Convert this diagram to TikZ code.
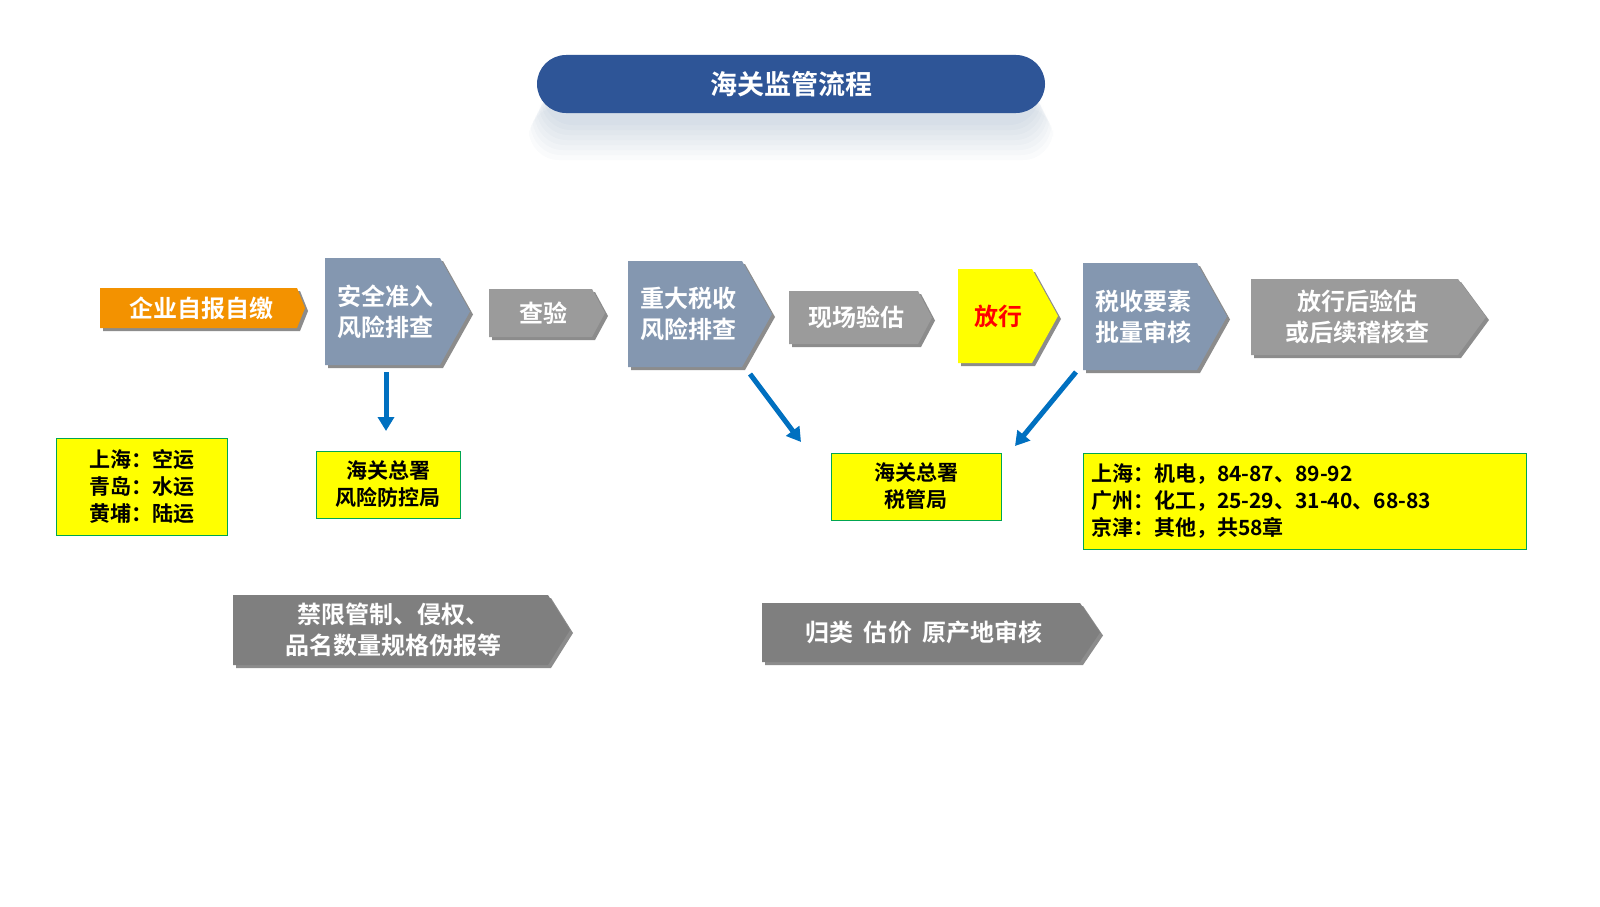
\documentclass[tikz,border=0pt]{standalone}
\usepackage{fontspec}
\setmainfont{Noto Sans CJK SC}[BoldFont={Noto Sans CJK SC Bold}]
\usetikzlibrary{arrows.meta}
\definecolor{ttl}{HTML}{2E5597}
\definecolor{org}{HTML}{F39200}
\definecolor{bg}{HTML}{8497B0}
\definecolor{gr}{HTML}{9B9B9B}
\definecolor{dg}{HTML}{7F7F7F}
\definecolor{yl}{HTML}{FFFF00}
\definecolor{gn}{HTML}{00A651}
\definecolor{bl}{HTML}{0070C0}
\newcommand\pent[9]{% name x1 y1 x2 y2 tip fill style text
  \fill[black!45] (#2+3,#3+3) -- (#6+3,#3+3) -- (#4+3,#3/2+#5/2+3) -- (#6+3,#5+3) -- (#2+3,#5+3) -- cycle;
  \fill[#7] (#2,#3) -- (#6,#3) -- (#4,#3/2+#5/2) -- (#6,#5) -- (#2,#5) -- cycle;
  \node[#8,align=center,inner sep=0pt] (#1) at (#2/2+#6/2+3,#3/2+#5/2) {#9};
}
\tikzset{ybox/.style={draw=gn,fill=yl,line width=1pt,font=\bfseries\fontsize{21}{27}\selectfont,align=center,inner sep=0pt},
 wt/.style={text=white,font=\bfseries\fontsize{24}{31}\selectfont},
 barrow/.style={bl,line width=5pt,-{Triangle[length=14pt,width=16pt]}}}
\begin{document}
\begin{tikzpicture}[x=1pt,y=-1pt]
\fill[white] (0,0) rectangle (1600,907);
\foreach \i in {1,...,8}{\fill[ttl,opacity=0.025,rounded corners=30] (545-\i*2,75+\i*4) rectangle (1037+\i*2,120+\i*5);}
\fill[ttl,rounded corners=29] (537,55) rectangle (1045,113);
\node[white,font=\bfseries\fontsize{27}{30}\selectfont] (title) at (791,84) {海关监管流程};
\pent{a}{100}{288}{305}{328}{297}{org}{wt}{企业自报自缴}
\pent{b}{325}{258}{470}{365}{440}{bg}{wt}{安全准入\\风险排查}
\pent{c}{489}{289}{605}{337}{592}{gr}{wt}{查验}
\pent{d}{628}{261}{772}{367}{742}{bg}{wt}{重大税收\\风险排查}
\pent{e}{789}{291}{932}{344}{918}{gr}{wt}{现场验估}
\pent{f}{958}{269}{1058}{363}{1032}{yl}{wt,text=red}{放行}
\pent{g}{1083}{263}{1227}{370}{1197}{bg}{wt}{税收要素\\批量审核}
\pent{h}{1251}{279}{1486}{355}{1458}{gr}{wt}{放行后验估\\或后续稽核查}
\pent{i}{233}{595}{570}{665}{548}{dg}{wt}{禁限管制、侵权、\\品名数量规格伪报等}
\pent{j}{762}{603}{1100}{662}{1080}{dg}{wt}{归类\ \ 估价\ \ 原产地审核}
\node[ybox,minimum width=171pt,minimum height=97pt] (k) at (141.5,486.5) {上海：空运\\青岛：水运\\黄埔：陆运};
\node[ybox,minimum width=144pt,minimum height=67pt] (l) at (388,484.5) {海关总署\\风险防控局};
\node[ybox,minimum width=170pt,minimum height=67pt] (m) at (916,486.5) {海关总署\\税管局};
\node[ybox,minimum width=443pt,minimum height=96pt,align=left,text width=427pt] (n) at (1304.5,501) {上海：机电，84-87、89-92\\广州：化工，25-29、31-40、68-83\\京津：其他，共58章};
\coordinate (b1) at (386,372); \coordinate (l1) at (386,431);
\coordinate (d1) at (750,374); \coordinate (m1) at (801,442);
\coordinate (g1) at (1076,372); \coordinate (m2) at (1015,446);
\draw[barrow] (b1) -- (l1);
\draw[barrow] (d1) -- (m1);
\draw[barrow] (g1) -- (m2);
\pgfresetboundingbox
\useasboundingbox (0,0) rectangle (1600,907);
\end{tikzpicture}
\end{document}
